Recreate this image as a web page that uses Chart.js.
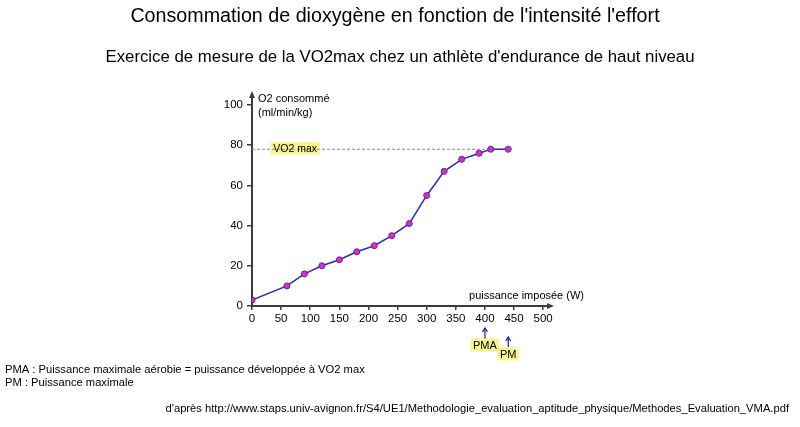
<!DOCTYPE html>
<html><head><meta charset="utf-8">
<script src="https://cdn.jsdelivr.net/npm/chart.js@4"></script>
<style>html,body{margin:0;padding:0;background:#fff;overflow:hidden}canvas{display:block}</style>
</head><body>
<canvas id="c" width="800" height="427"></canvas>
<script>
const puissance = [0, 60, 90, 120, 150, 180, 210, 240, 270, 300, 330, 360, 390, 410, 440];
const o2 = [3, 10, 16, 20, 23, 27, 30, 35, 41, 55, 67, 73, 76, 78, 78];
const vo2max = 78;
const xTicks = [0, 50, 100, 150, 200, 250, 300, 350, 400, 450, 500];
const yTicks = [0, 20, 40, 60, 80, 100];
const pmaValue = 400;
const pmValue = 440;
const title = "Consommation de dioxygène en fonction de l'intensité l'effort";
const subtitle = "Exercice de mesure de la VO2max chez un athlète d'endurance de haut niveau";
const yTitle = ["O2 consommé", "(ml/min/kg)"];
const xTitle = "puissance imposée (W)";
const notes = ["PMA : Puissance maximale aérobie = puissance développée à VO2 max", "PM : Puissance maximale"];
const source = "d'après http://www.staps.univ-avignon.fr/S4/UE1/Methodologie_evaluation_aptitude_physique/Methodes_Evaluation_VMA.pdf";

const FONT = "'Liberation Sans', Arial, sans-serif";
const AXIS = '#3c3c3c';
const YELLOW = '#f6f68c';

const points = puissance.map((x, i) => ({x, y: o2[i]}));
const vo2Line = [{x: 0, y: vo2max}, {x: puissance[puissance.length - 1], y: vo2max}];

function boxBg(ctx, text, cx, cy, size) {
  ctx.font = size + 'px ' + FONT;
  const w = ctx.measureText(text).width;
  ctx.fillStyle = YELLOW;
  ctx.fillRect(cx - w / 2 - 2.5, cy - size / 2 - 1, w + 5, size + 2);
}
function boxText(ctx, text, cx, cy, size) {
  ctx.font = size + 'px ' + FONT;
  ctx.fillStyle = '#000';
  ctx.textAlign = 'center';
  ctx.textBaseline = 'middle';
  ctx.fillText(text, cx, cy + 0.5);
}

const deco = {
  id: 'deco',
  beforeDatasetsDraw(chart) {
    const ctx = chart.ctx;
    const xs = chart.scales.x, ys = chart.scales.y;
    ctx.save();
    boxBg(ctx, 'VO2 max', xs.getPixelForValue(74), ys.getPixelForValue(vo2max) - 1, 10.5);
    ctx.restore();
  },
  afterDraw(chart) {
    const ctx = chart.ctx;
    const a = chart.chartArea;
    const xs = chart.scales.x, ys = chart.scales.y;
    ctx.save();
    boxText(ctx, 'VO2 max', xs.getPixelForValue(74), ys.getPixelForValue(vo2max) - 1, 10.5);
    // titles
    ctx.fillStyle = '#000';
    ctx.textAlign = 'center';
    ctx.textBaseline = 'middle';
    ctx.font = '19.7px ' + FONT;
    ctx.fillText(title, 395, 17);
    ctx.font = '16.8px ' + FONT;
    ctx.fillText(subtitle, 400, 57);
    // axis arrows
    ctx.fillStyle = AXIS;
    ctx.beginPath();
    ctx.moveTo(a.left, a.top - 4);
    ctx.lineTo(a.left - 3, a.top + 3);
    ctx.lineTo(a.left + 3, a.top + 3);
    ctx.closePath();
    ctx.fill();
    ctx.beginPath();
    ctx.moveTo(a.right + 5, a.bottom);
    ctx.lineTo(a.right - 2, a.bottom - 3);
    ctx.lineTo(a.right - 2, a.bottom + 3);
    ctx.closePath();
    ctx.fill();
    // axis titles
    ctx.fillStyle = '#000';
    ctx.font = '11px ' + FONT;
    ctx.textAlign = 'left';
    ctx.fillText(yTitle[0], a.left + 6, a.top + 4);
    ctx.fillText(yTitle[1], a.left + 6, a.top + 18);
    ctx.textAlign = 'right';
    ctx.fillText(xTitle, a.right + 35, a.bottom - 10);
    // PMA / PM arrows
    ctx.strokeStyle = '#1a1a8c';
    ctx.lineWidth = 1.2;
    const arrow = (x, y1, y2) => {
      ctx.beginPath(); ctx.moveTo(x, y1); ctx.lineTo(x, y2 + 1); ctx.stroke();
      ctx.beginPath(); ctx.moveTo(x - 2.5, y2 + 4); ctx.lineTo(x, y2); ctx.lineTo(x + 2.5, y2 + 4); ctx.stroke();
    };
    const px1 = xs.getPixelForValue(pmaValue);
    const px2 = xs.getPixelForValue(pmValue);
    arrow(px1, a.bottom + 33, a.bottom + 22);
    arrow(px2, a.bottom + 41, a.bottom + 31);
    boxBg(ctx, 'PMA', px1, a.bottom + 39, 11);
    boxText(ctx, 'PMA', px1, a.bottom + 39, 11);
    boxBg(ctx, 'PM', px2, a.bottom + 48, 11);
    boxText(ctx, 'PM', px2, a.bottom + 48, 11);
    // notes
    ctx.fillStyle = '#000';
    ctx.textAlign = 'left';
    ctx.textBaseline = 'middle';
    ctx.font = '11.2px ' + FONT;
    ctx.fillText(notes[0], 5, 370);
    ctx.fillText(notes[1], 5, 383);
    ctx.textAlign = 'right';
    ctx.fillText(source, 789, 409);
    ctx.restore();
  }
};

new Chart(document.getElementById('c'), {
  type: 'scatter',
  data: {
    datasets: [
      {
        data: vo2Line,
        showLine: true,
        borderColor: '#8a8a8a',
        borderWidth: 1,
        borderDash: [3, 2],
        pointRadius: 0,
        order: 2
      },
      {
        data: points,
        showLine: true,
        borderColor: '#2a2ac0',
        borderWidth: 1.5,
        pointRadius: 3,
        pointBackgroundColor: '#cc33cc',
        pointBorderColor: '#7a1a8a',
        pointBorderWidth: 1,
        order: 1
      }
    ]
  },
  options: {
    responsive: false,
    animation: false,
    devicePixelRatio: 1,
    layout: { padding: { left: 0, top: 95, right: 251, bottom: 0 } },
    plugins: { legend: { display: false }, tooltip: { enabled: false } },
    scales: {
      x: {
        type: 'linear', min: 0, max: 510,
        afterFit: s => { s.height = 121; },
        afterBuildTicks: s => { s.ticks = xTicks.map(v => ({value: v})); },
        grid: { display: true, drawOnChartArea: false, drawTicks: true, tickLength: 4, color: AXIS, lineWidth: 1.5 },
        border: { display: true, color: AXIS, width: 2 },
        ticks: { color: '#000', font: { family: FONT, size: 11.5 }, padding: 2, maxRotation: 0, autoSkip: false }
      },
      y: {
        type: 'linear', min: 0, max: 105,
        afterFit: s => { s.width = 252; },
        afterBuildTicks: s => { s.ticks = yTicks.map(v => ({value: v})); },
        grid: { display: true, drawOnChartArea: false, drawTicks: true, tickLength: 5, color: AXIS, lineWidth: 1.5 },
        border: { display: true, color: AXIS, width: 2 },
        ticks: { color: '#000', font: { family: FONT, size: 11.5 }, padding: 4 }
      }
    }
  },
  plugins: [deco]
});
</script>
</body></html>
